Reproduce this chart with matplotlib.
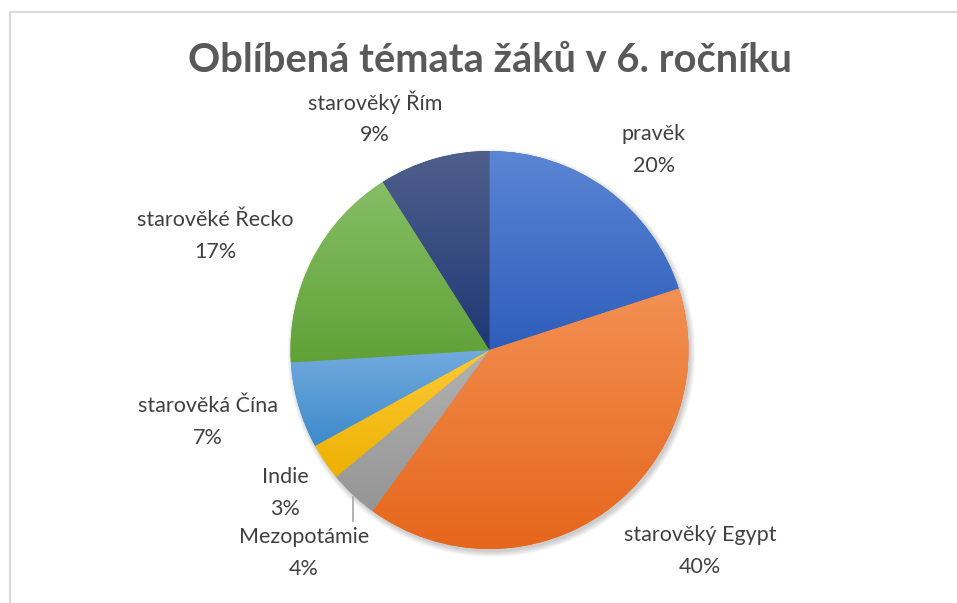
import matplotlib
matplotlib.use('Agg')
import matplotlib.pyplot as plt
from matplotlib.colors import to_rgb
from matplotlib.patches import Circle
import numpy as np

# Data
kategorie = ['pravěk', 'starověký Egypt', 'Mezopotámie', 'Indie',
             'starověká Čína', 'starověké Řecko', 'starověký Řím']
procenta = [20, 40, 4, 3, 7, 17, 9]

# Barvy (nahoře, dole) – gradient jako v Excelu
barvy_top = ['#5B86D4', '#F29053', '#B2B2B2', '#FFCA38', '#72AADE', '#86BE66', '#505F8C']
barvy_bot = ['#2E5DBB', '#E6661B', '#959595', '#ECB100', '#3D8ACB', '#60A137', '#1E3875']

# Pozice popisků v pixelech (x, y středu textu)
pozice_popisku = [(654, 150), (700, 551), (304, 553), (285, 493),
                  (208, 422), (215, 236), (375, 118)]

W, H = 957, 603
fig = plt.figure(figsize=(W / 100, H / 100), dpi=100)
ax = fig.add_axes([0, 0, 1, 1])
ax.set_xlim(0, W)
ax.set_ylim(0, H)
ax.axis('off')

def fy(y):
    return H - y

cx, cy, r = 489.5, fy(350), 199

# stín
for i in range(10):
    ax.add_patch(Circle((cx + 2, cy - 3), r + 5 - i * 0.6, color='black',
                        alpha=0.018, lw=0, zorder=1))

wedges, _ = ax.pie(procenta, startangle=90, counterclock=False, center=(cx, cy),
                   radius=r, colors=barvy_bot, frame=True,
                   wedgeprops=dict(linewidth=0, zorder=2))

for w, ct, cb in zip(wedges, barvy_top, barvy_bot):
    v = w.get_path().vertices
    x0, x1 = v[:, 0].min(), v[:, 0].max()
    y0, y1 = v[:, 1].min(), v[:, 1].max()
    t = np.linspace(0, 1, 256)[:, None]
    grad = (1 - t) * np.array(to_rgb(cb)) + t * np.array(to_rgb(ct))
    img = grad[:, None, :]
    im = ax.imshow(img, extent=[x0, x1, y0, y1], origin='lower', aspect='auto',
                   zorder=3, interpolation='bilinear')
    im.set_clip_path(w)

ax.set_xlim(0, W)
ax.set_ylim(0, H)
ax.set_aspect('equal')
ax.axis('off')

# popisky
for kat, p, (px, py) in zip(kategorie, procenta, pozice_popisku):
    ax.text(px, fy(py), f'{kat}\n{p}%', ha='center', va='center', fontsize=15.5,
            family='Lato', color='#404040', linespacing=1.7, zorder=5)

# vodicí čára pro Mezopotámii
uhel = np.deg2rad(90 - (sum(procenta[:2]) + procenta[2] / 2) * 3.6)
lx = cx + r * np.cos(uhel)
ly = cy + r * np.sin(uhel)
ax.plot([lx, lx], [ly - 2, fy(521)], color='#A6A6A6', lw=1.2, zorder=4)

# titulek
ax.text(490, fy(60), 'Oblíbená témata žáků v 6. ročníku', ha='center', va='center',
        fontsize=28.7, fontweight='bold', family='Lato', color='#595959')

# rámeček
ax.plot([10, 10, W + 5], [fy(H + 5), fy(12), fy(12)], color='#D9D9D9', lw=1.5,
        clip_on=False)

fig.savefig('out.png', dpi=100)
